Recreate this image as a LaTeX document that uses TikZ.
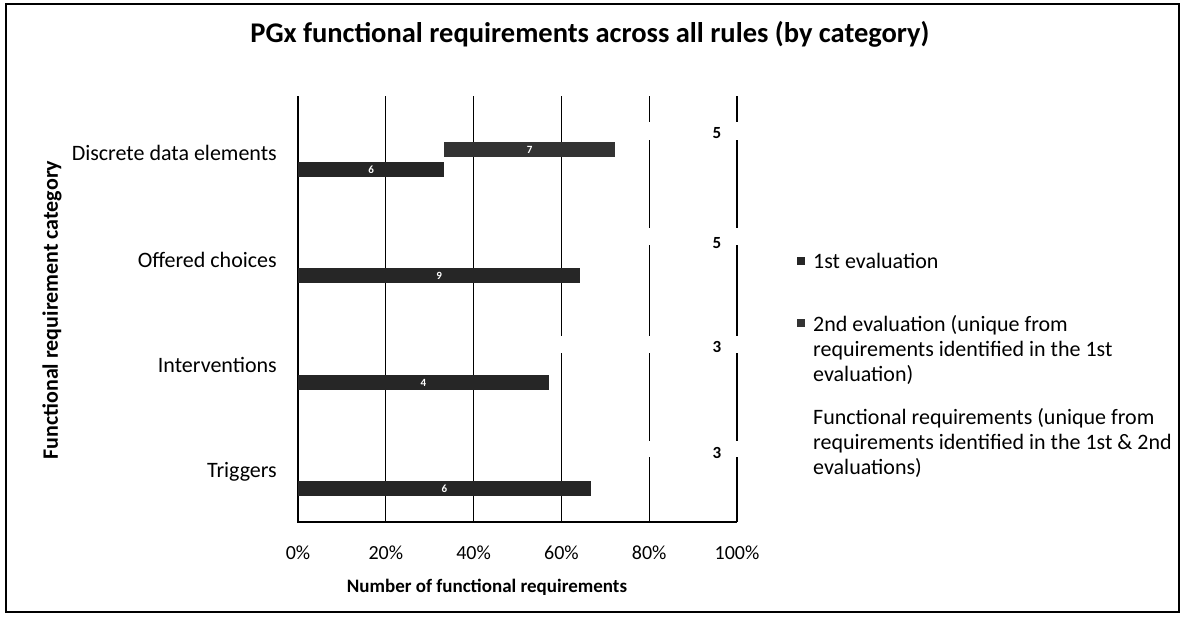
\documentclass[tikz,border=0pt]{standalone}
\usepackage{fontspec}
\setmainfont{Carlito}
\begin{document}
\begin{tikzpicture}[x=1pt,y=-1pt,
  gridline/.style={draw=black,line width=1.3pt},
  axisline/.style={draw=black,line width=1.3pt},
  firstbar/.style={fill=black!85},
  secondbar/.style={fill=black!80},
  thirdbar/.style={fill=white},
  catlabel/.style={anchor=east,font=\fontsize{22}{24}\selectfont,inner sep=0pt},
  ticklabel/.style={anchor=center,font=\fontsize{20}{22}\selectfont,inner sep=0pt},
  barlabel/.style={anchor=center,text=white,font=\fontsize{11}{12}\selectfont\bfseries,inner sep=0pt},
  endlabel/.style={anchor=center,font=\fontsize{17}{18}\selectfont\bfseries,inner sep=0pt},
  legendtext/.style={anchor=base west,font=\fontsize{22}{25}\selectfont,inner sep=0pt},
]
\useasboundingbox (0,0) rectangle (1182,616);
\fill[white] (0,0) rectangle (1182,616);
% chart frame
\draw[line width=1.2pt] (6,4) rectangle (1179,612);

% title
\node[font=\fontsize{28.5}{30}\selectfont\bfseries] (title) at (590,34) {PGx functional requirements across all rules (by category)};

% vertical grid lines (20% .. 100%)
\foreach \p/\xx in {20/385.8,40/473.6,60/561.4,80/649.2,100/737}
  \draw[gridline] (\xx,96) -- (\xx,522);

% third series: white bars hiding the grid (Discrete, Offered, Interventions, Triggers)
\fill[thirdbar] (615,122) rectangle (740,140);
\fill[thirdbar] (580.3,228) rectangle (740,245);
\fill[thirdbar] (549,336) rectangle (740,353);
\fill[thirdbar] (590.7,441) rectangle (740,457);

% axes
\draw[axisline] (298,96) -- (298,522) -- (737,522);

% 1st evaluation bars
\fill[firstbar] (298,162) rectangle (444.3,177);
\fill[firstbar] (298,268) rectangle (580.3,283);
\fill[firstbar] (298,375) rectangle (549,390);
\fill[firstbar] (298,481) rectangle (590.7,496);
% 2nd evaluation bar
\fill[secondbar] (444.3,142) rectangle (615,157);

% values on the bars
\node[barlabel] (v1) at (371.2,169.5) {6};
\node[barlabel] (v2) at (529.7,149.5) {7};
\node[barlabel] (v3) at (439.2,275.5) {9};
\node[barlabel] (v4) at (423.5,382.5) {4};
\node[barlabel] (v5) at (444.4,488.5) {6};
% values of the third series
\node[endlabel] (e1) at (717,133) {5};
\node[endlabel] (e2) at (717,243) {5};
\node[endlabel] (e3) at (717,347) {3};
\node[endlabel] (e4) at (717,453) {3};

% category labels
\node[catlabel] (c1) at (277,153) {Discrete data elements};
\node[catlabel] (c2) at (277,260) {Offered choices};
\node[catlabel] (c3) at (277,365) {Interventions};
\node[catlabel] (c4) at (277,472) {Triggers};

% axis titles
\node[rotate=90,font=\fontsize{22}{24}\selectfont\bfseries] (ytitle) at (52,310) {Functional requirement category};
\node[font=\fontsize{19}{21}\selectfont\bfseries] (xtitle) at (487,587) {Number of functional requirements};

% tick labels
\node[ticklabel] (t0) at (298,553) {0\%};
\node[ticklabel] (t20) at (385.8,553) {20\%};
\node[ticklabel] (t40) at (473.6,553) {40\%};
\node[ticklabel] (t60) at (561.4,553) {60\%};
\node[ticklabel] (t80) at (649.2,553) {80\%};
\node[ticklabel] (t100) at (737,553) {100\%};

% legend
\fill[firstbar] (797,257) rectangle (805,265);
\node[legendtext] (l1) at (813,268) {1st evaluation};
\fill[secondbar] (797,319) rectangle (805,327);
\node[legendtext] (l2a) at (813,331) {2nd evaluation (unique from};
\node[legendtext] (l2b) at (813,356) {requirements identified in the 1st};
\node[legendtext] (l2c) at (813,381) {evaluation)};
\node[legendtext] (l3a) at (813,424) {Functional requirements (unique from};
\node[legendtext] (l3b) at (813,449) {requirements identified in the 1st \& 2nd};
\node[legendtext] (l3c) at (813,474) {evaluations)};
\end{tikzpicture}
\end{document}
